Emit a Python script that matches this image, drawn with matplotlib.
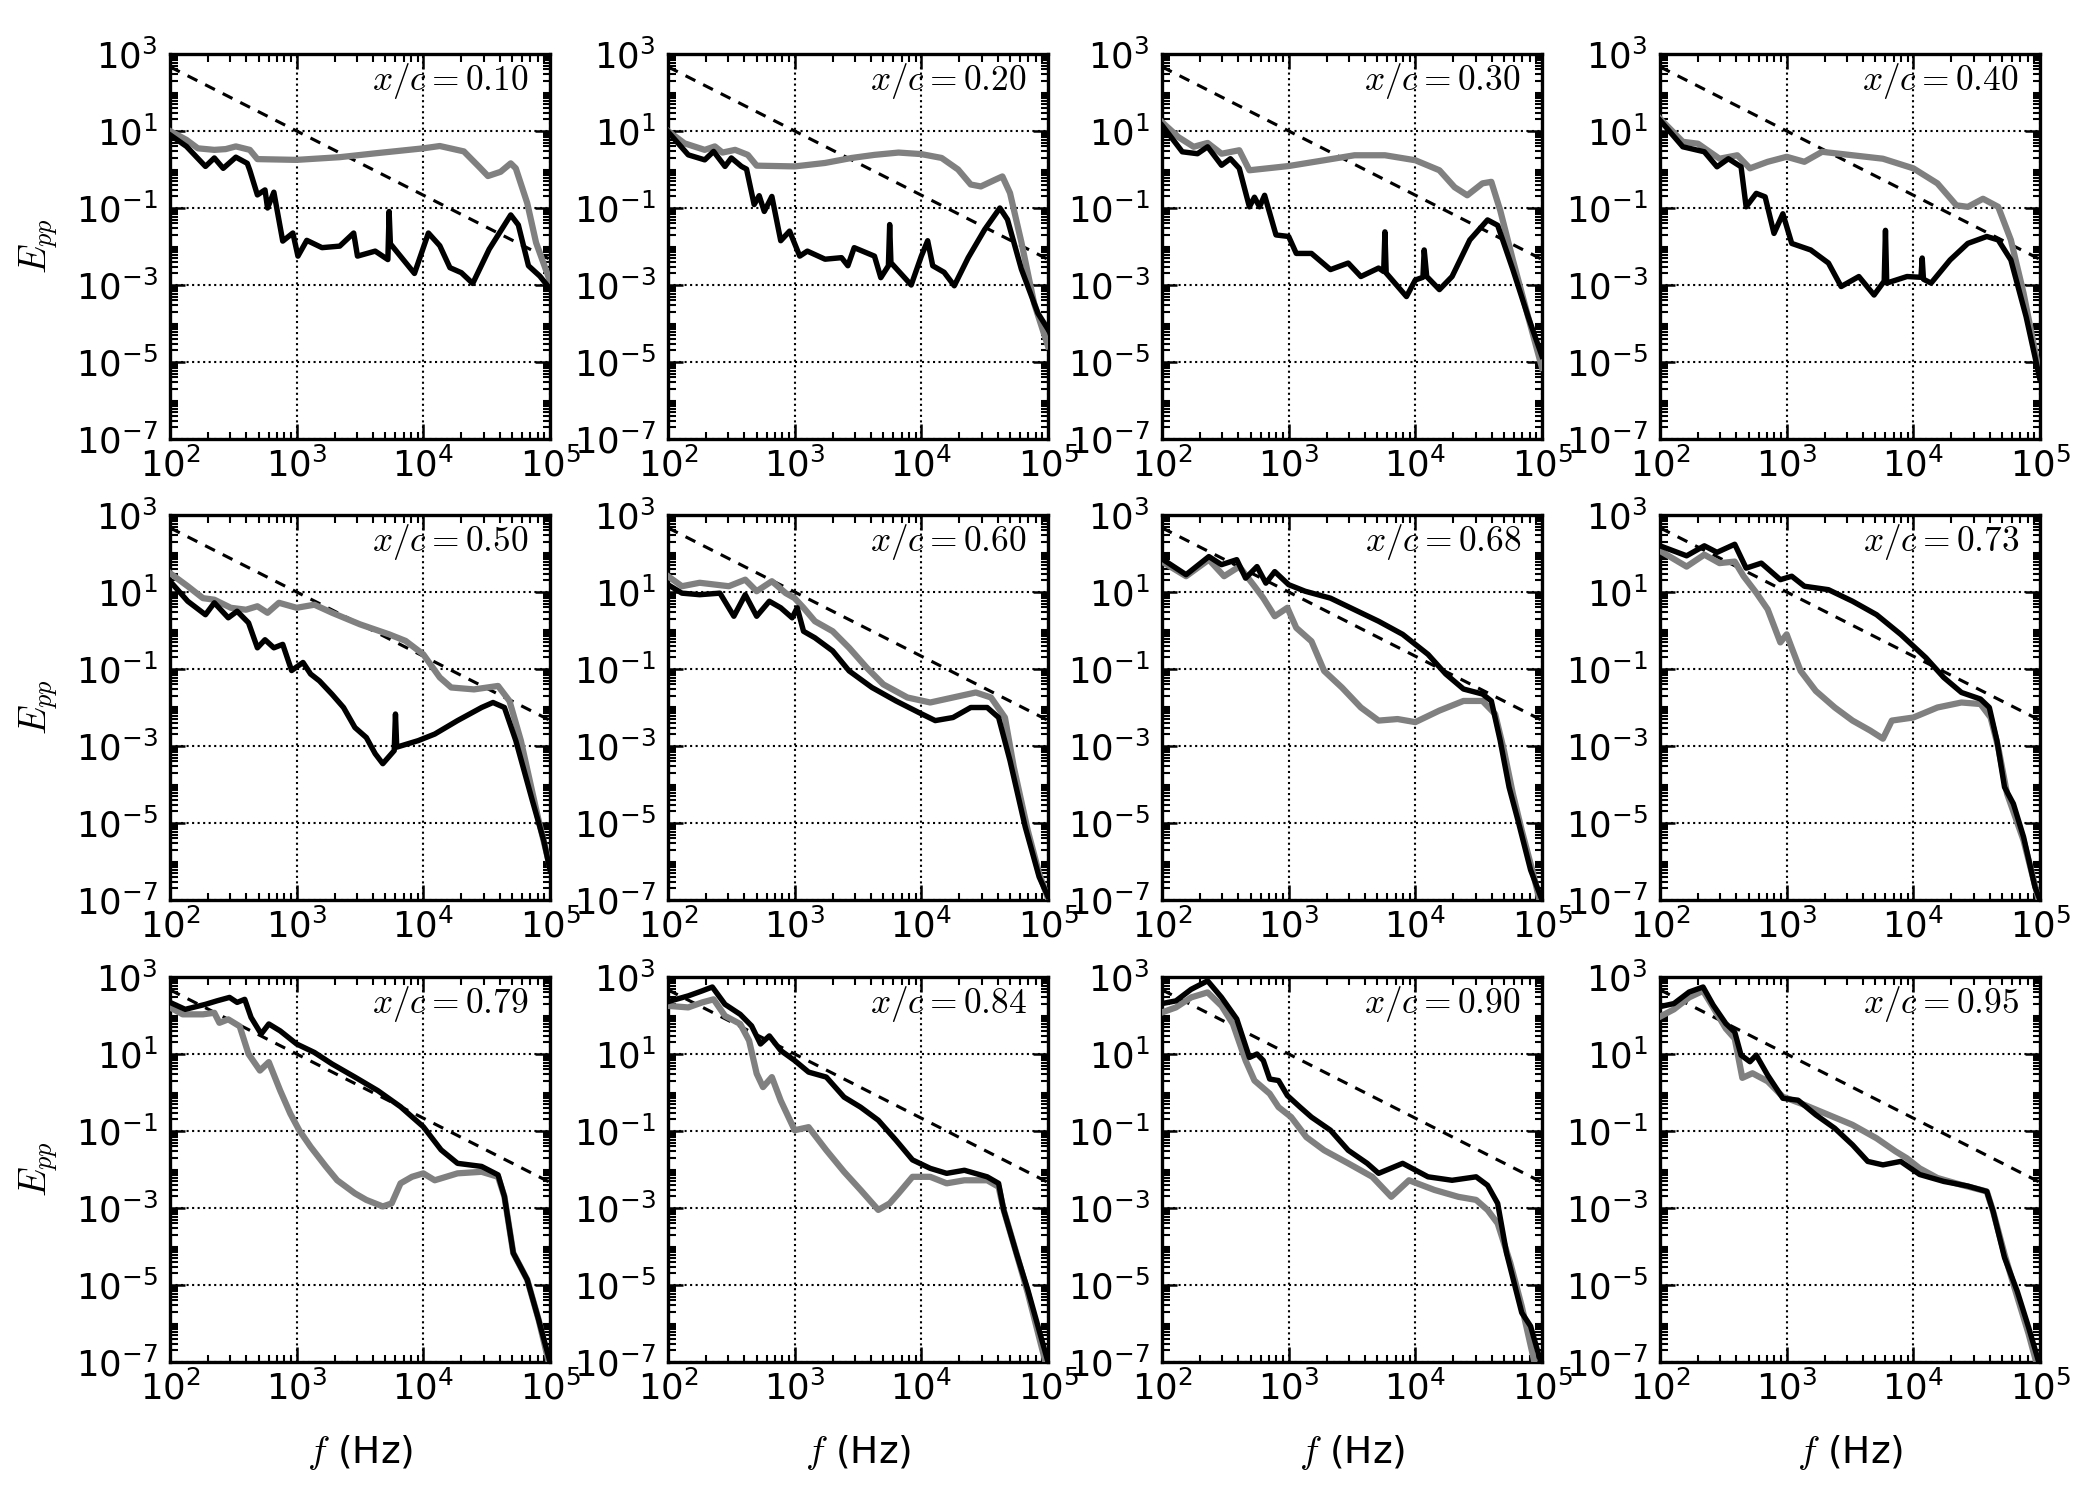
import numpy as np
import matplotlib
matplotlib.use("Agg")
import matplotlib.pyplot as plt
from matplotlib.ticker import LogLocator, NullFormatter, FuncFormatter

plt.rcParams['mathtext.fontset'] = 'cm'
plt.rcParams['axes.unicode_minus'] = False
plt.rcParams['font.family'] = ['DejaVu Sans']

# =========================
# Data (log10 f, log10 E_pp)
# k = black curve, g = gray curve
# =========================
labels = ["0.10", "0.20", "0.30", "0.40", "0.50", "0.60",
          "0.68", "0.73", "0.79", "0.84", "0.90", "0.95"]

# -5/3 reference line end points (f, E)
ref_f = [1e2, 1e5]
ref_E = [464.0, 0.00464]

lf_k_010 = [2.0, 2.13, 2.28, 2.35, 2.42, 2.52, 2.61, 2.63, 2.69, 2.75, 2.77, 2.82, 2.89, 2.97, 3.01, 3.08, 3.2, 3.34,
            3.45, 3.48, 3.62, 3.72, 3.73, 3.74, 3.93, 4.04, 4.13, 4.21, 4.3, 4.39, 4.52, 4.69, 4.75, 4.83, 4.92, 5.0]
le_k_010 = [0.9, 0.6, 0.08, 0.3, 0.03, 0.32, 0.16, -0.02, -0.66, -0.53, -1.0, -0.59, -1.86, -1.65, -2.25, -1.84,
            -2.03, -1.99, -1.65, -2.25, -2.12, -2.34, -1.09, -1.93, -2.7, -1.65, -1.98, -2.55, -2.68, -2.96, -2.07,
            -1.18, -1.44, -2.5, -2.77, -3.1]
lf_g_010 = [2.0, 2.13, 2.22, 2.35, 2.44, 2.52, 2.63, 2.69, 3.0, 3.34, 3.62, 4.0, 4.13, 4.32, 4.44, 4.51, 4.61, 4.69,
            4.73, 4.82, 4.89, 5.0]
le_g_010 = [1.0, 0.77, 0.55, 0.51, 0.53, 0.6, 0.51, 0.27, 0.25, 0.32, 0.42, 0.55, 0.61, 0.47, 0.07, -0.17, -0.06,
            0.16, 0.03, -0.87, -1.9, -2.9]

lf_k_020 = [2.0, 2.16, 2.29, 2.36, 2.45, 2.5, 2.58, 2.62, 2.68, 2.72, 2.76, 2.82, 2.89, 2.96, 3.04, 3.1, 3.24, 3.37,
            3.42, 3.47, 3.63, 3.68, 3.74, 3.75, 3.76, 3.92, 4.0, 4.05, 4.09, 4.18, 4.26, 4.37, 4.5, 4.62, 4.68, 4.79,
            4.92, 5.0]
le_k_020 = [0.98, 0.38, 0.25, 0.47, 0.08, 0.3, 0.08, 0.01, -0.91, -0.68, -1.09, -0.7, -1.85, -1.6, -2.25, -2.12,
            -2.33, -2.29, -2.5, -2.03, -2.25, -2.81, -2.5, -1.43, -2.42, -3.0, -2.25, -1.85, -2.5, -2.67, -3.02,
            -2.29, -1.56, -1.0, -1.3, -2.59, -3.73, -4.15]
lf_g_020 = [2.0, 2.13, 2.29, 2.37, 2.43, 2.53, 2.63, 2.7, 3.0, 3.24, 3.45, 3.63, 3.82, 4.0, 4.16, 4.29, 4.39, 4.47,
            4.58, 4.64, 4.7, 4.79, 4.89, 5.0]
le_g_020 = [1.0, 0.68, 0.51, 0.6, 0.44, 0.51, 0.38, 0.1, 0.08, 0.17, 0.3, 0.38, 0.44, 0.4, 0.3, 0.0, -0.39, -0.44,
            -0.27, -0.18, -0.61, -1.89, -3.47, -4.59]

lf_k_030 = [2.0, 2.16, 2.28, 2.36, 2.47, 2.54, 2.61, 2.69, 2.73, 2.77, 2.81, 2.9, 3.0, 3.06, 3.18, 3.33, 3.47, 3.57,
            3.71, 3.75, 3.76, 3.77, 3.93, 4.0, 4.06, 4.07, 4.09, 4.19, 4.29, 4.43, 4.57, 4.65, 4.77, 4.89, 5.0]
le_k_030 = [1.15, 0.46, 0.41, 0.59, 0.11, 0.28, 0.03, -0.97, -0.72, -0.97, -0.67, -1.7, -1.74, -2.18, -2.18, -2.6,
            -2.43, -2.78, -2.56, -2.65, -1.62, -2.69, -3.3, -2.87, -2.8, -2.09, -2.78, -3.12, -2.78, -1.83, -1.31,
            -1.45, -2.6, -3.82, -4.85]
lf_g_030 = [2.0, 2.13, 2.25, 2.36, 2.47, 2.61, 2.69, 3.0, 3.28, 3.52, 3.76, 4.0, 4.19, 4.31, 4.41, 4.53, 4.6, 4.67,
            4.77, 4.89, 5.0]
le_g_030 = [1.23, 0.84, 0.59, 0.69, 0.41, 0.5, -0.02, 0.09, 0.24, 0.37, 0.37, 0.24, -0.02, -0.46, -0.67, -0.36,
            -0.32, -1.06, -2.35, -3.82, -5.15]

lf_k_040 = [2.0, 2.18, 2.35, 2.45, 2.54, 2.64, 2.68, 2.76, 2.83, 2.9, 2.97, 3.04, 3.19, 3.33, 3.43, 3.57, 3.69, 3.77,
            3.78, 3.79, 3.95, 4.06, 4.07, 4.08, 4.14, 4.29, 4.43, 4.58, 4.67, 4.77, 4.89, 5.0]
le_k_040 = [1.28, 0.59, 0.46, 0.07, 0.28, 0.07, -0.97, -0.62, -0.71, -1.66, -1.15, -1.92, -2.09, -2.43, -3.04, -2.78,
            -3.26, -2.9, -1.58, -2.95, -2.78, -2.8, -2.3, -2.85, -2.95, -2.35, -1.92, -1.74, -1.83, -2.35, -3.82, -5.46]
lf_g_040 = [2.0, 2.18, 2.3, 2.47, 2.61, 2.71, 2.85, 3.0, 3.14, 3.28, 3.52, 3.76, 4.0, 4.19, 4.34, 4.43, 4.55, 4.67,
            4.77, 4.87, 5.0]
le_g_040 = [1.32, 0.72, 0.67, 0.28, 0.37, 0.03, 0.2, 0.33, 0.2, 0.46, 0.37, 0.28, 0.03, -0.36, -0.93, -0.97, -0.76,
            -0.97, -1.83, -3.21, -5.37]

lf_k_050 = [2.0, 2.14, 2.28, 2.35, 2.46, 2.53, 2.62, 2.69, 2.75, 2.82, 2.89, 2.96, 3.05, 3.11, 3.18, 3.28, 3.37, 3.46,
            3.55, 3.62, 3.68, 3.77, 3.78, 3.79, 3.96, 4.09, 4.27, 4.46, 4.55, 4.64, 4.73, 4.86, 4.95, 5.0]
le_k_050 = [1.28, 0.76, 0.41, 0.72, 0.33, 0.5, 0.2, -0.45, -0.24, -0.45, -0.36, -1.04, -0.83, -1.13, -1.31, -1.66,
            -2.0, -2.52, -2.78, -3.2, -3.46, -3.12, -2.17, -3.03, -2.86, -2.69, -2.34, -2.0, -1.87, -2.0, -2.86,
            -4.41, -5.45, -6.22]
lf_g_050 = [2.0, 2.14, 2.26, 2.35, 2.48, 2.6, 2.69, 2.77, 2.86, 3.0, 3.14, 3.28, 3.5, 3.73, 3.86, 4.0, 4.13, 4.22,
            4.4, 4.59, 4.68, 4.77, 4.91, 5.0]
le_g_050 = [1.49, 1.15, 0.84, 0.8, 0.59, 0.54, 0.63, 0.46, 0.72, 0.59, 0.67, 0.46, 0.16, -0.1, -0.27, -0.62, -1.22,
            -1.48, -1.53, -1.44, -1.83, -2.86, -4.93, -6.14]

lf_k_060 = [2.0, 2.11, 2.25, 2.41, 2.52, 2.61, 2.7, 2.8, 2.89, 2.98, 3.02, 3.07, 3.16, 3.3, 3.43, 3.61, 3.8, 3.98,
            4.11, 4.25, 4.39, 4.52, 4.61, 4.7, 4.82, 4.93, 5.0]
le_k_060 = [1.19, 0.97, 0.93, 0.97, 0.37, 0.93, 0.37, 0.76, 0.59, 0.33, 0.59, -0.02, -0.19, -0.53, -1.05, -1.48,
            -1.83, -2.13, -2.34, -2.26, -2.0, -2.0, -2.26, -3.38, -5.1, -6.4, -6.91]
lf_g_060 = [2.0, 2.11, 2.25, 2.48, 2.61, 2.7, 2.82, 2.93, 3.0, 3.07, 3.16, 3.3, 3.43, 3.57, 3.7, 3.89, 4.07, 4.25,
            4.43, 4.55, 4.66, 4.73, 4.84, 4.93, 5.0]
le_g_060 = [1.41, 1.15, 1.24, 1.15, 1.32, 1.02, 1.28, 0.97, 0.84, 0.59, 0.24, -0.02, -0.45, -0.97, -1.4, -1.74,
            -1.87, -1.74, -1.61, -1.74, -2.26, -3.55, -5.19, -6.31, -6.96]

lf_k_068 = [2.0, 2.19, 2.37, 2.47, 2.59, 2.66, 2.75, 2.82, 2.89, 3.0, 3.13, 3.33, 3.52, 3.71, 3.9, 4.1, 4.24, 4.38,
            4.53, 4.6, 4.67, 4.74, 4.81, 4.91, 5.0]
le_k_068 = [1.86, 1.45, 1.92, 1.71, 1.84, 1.36, 1.66, 1.23, 1.53, 1.19, 1.02, 0.84, 0.54, 0.24, -0.1, -0.62, -1.13,
            -1.52, -1.65, -1.83, -2.86, -4.07, -4.93, -6.22, -7.0]
lf_g_068 = [2.0, 2.19, 2.37, 2.49, 2.61, 2.73, 2.8, 2.89, 2.99, 3.06, 3.18, 3.28, 3.42, 3.57, 3.71, 3.86, 4.0, 4.19,
            4.38, 4.53, 4.63, 4.7, 4.77, 4.84, 4.93, 4.98]
le_g_068 = [1.79, 1.41, 1.84, 1.41, 1.66, 1.15, 0.84, 0.37, 0.59, 0.07, -0.28, -1.05, -1.48, -2.0, -2.34, -2.3,
            -2.38, -2.08, -1.83, -1.83, -2.17, -3.12, -4.24, -5.19, -6.31, -7.0]

lf_k_073 = [2.0, 2.21, 2.35, 2.45, 2.59, 2.68, 2.8, 2.95, 3.04, 3.14, 3.33, 3.52, 3.71, 3.9, 4.1, 4.24, 4.38, 4.53,
            4.6, 4.66, 4.72, 4.79, 4.87, 4.96, 5.0]
le_k_073 = [2.2, 1.94, 2.2, 2.03, 2.24, 1.62, 1.75, 1.32, 1.41, 1.15, 1.06, 0.76, 0.41, -0.1, -0.71, -1.22, -1.61,
            -1.78, -2.0, -2.86, -4.07, -4.5, -5.36, -6.66, -7.0]
lf_g_073 = [2.0, 2.21, 2.35, 2.47, 2.59, 2.66, 2.76, 2.85, 2.95, 3.0, 3.04, 3.11, 3.23, 3.38, 3.52, 3.66, 3.76, 3.83,
            4.0, 4.19, 4.38, 4.53, 4.61, 4.67, 4.74, 4.87, 4.99]
le_g_073 = [2.07, 1.66, 1.97, 1.75, 1.79, 1.41, 0.98, 0.55, -0.31, -0.1, -0.45, -1.05, -1.57, -2.0, -2.34, -2.6,
            -2.81, -2.34, -2.26, -2.0, -1.87, -1.91, -2.26, -3.03, -4.24, -5.45, -7.0]

lf_k_079 = [2.0, 2.12, 2.28, 2.37, 2.47, 2.53, 2.59, 2.64, 2.72, 2.78, 2.87, 3.0, 3.14, 3.28, 3.46, 3.64, 3.82, 4.0,
            4.14, 4.27, 4.46, 4.59, 4.64, 4.71, 4.82, 4.91, 5.0]
le_k_079 = [2.34, 2.16, 2.29, 2.38, 2.47, 2.34, 2.42, 1.95, 1.52, 1.78, 1.6, 1.26, 1.04, 0.74, 0.4, 0.05, -0.37,
            -0.89, -1.49, -1.84, -1.92, -2.14, -2.7, -4.17, -4.86, -5.9, -7.0]
lf_g_079 = [2.0, 2.1, 2.26, 2.35, 2.39, 2.46, 2.55, 2.62, 2.71, 2.78, 2.87, 2.95, 3.02, 3.11, 3.23, 3.32, 3.46, 3.55,
            3.68, 3.75, 3.82, 3.91, 4.0, 4.09, 4.27, 4.46, 4.59, 4.64, 4.71, 4.82, 4.91, 4.99]
le_g_079 = [2.21, 2.03, 2.03, 2.07, 1.81, 1.9, 1.72, 1.0, 0.57, 0.79, 0.05, -0.55, -0.98, -1.41, -1.92, -2.28, -2.62,
            -2.79, -2.96, -2.88, -2.36, -2.19, -2.1, -2.28, -2.1, -2.06, -2.19, -2.7, -4.17, -4.86, -5.9, -7.0]

lf_k_084 = [2.0, 2.16, 2.27, 2.35, 2.45, 2.57, 2.66, 2.73, 2.8, 2.89, 3.0, 3.11, 3.25, 3.39, 3.52, 3.66, 3.8, 3.93,
            4.07, 4.2, 4.34, 4.52, 4.61, 4.65, 4.75, 4.84, 5.0]
le_k_084 = [2.36, 2.51, 2.64, 2.74, 2.29, 2.03, 1.73, 1.26, 1.47, 1.09, 0.83, 0.53, 0.4, -0.12, -0.38, -0.72, -1.24,
            -1.75, -1.97, -2.1, -2.02, -2.19, -2.36, -3.05, -4.17, -5.12, -7.0]
lf_g_084 = [2.0, 2.16, 2.27, 2.36, 2.45, 2.57, 2.64, 2.7, 2.75, 2.82, 2.89, 3.0, 3.11, 3.25, 3.39, 3.52, 3.66, 3.75,
            3.82, 3.93, 4.07, 4.2, 4.34, 4.52, 4.61, 4.65, 4.75, 4.84, 4.98]
le_g_084 = [2.25, 2.21, 2.34, 2.42, 1.99, 1.78, 1.35, 0.49, 0.14, 0.4, -0.21, -0.98, -0.9, -1.5, -2.06, -2.53, -3.05,
            -2.88, -2.62, -2.19, -2.19, -2.36, -2.28, -2.28, -2.45, -3.05, -4.17, -5.2, -7.0]

lf_k_090 = [2.0, 2.11, 2.23, 2.36, 2.47, 2.59, 2.69, 2.75, 2.8, 2.85, 2.92, 2.99, 3.09, 3.18, 3.33, 3.47, 3.62, 3.71,
            3.9, 4.1, 4.29, 4.48, 4.57, 4.65, 4.72, 4.84, 4.91, 4.99]
le_k_090 = [2.31, 2.38, 2.68, 2.9, 2.47, 1.91, 0.91, 1.0, 0.83, 0.35, 0.31, -0.08, -0.38, -0.64, -0.98, -1.5, -1.84,
            -2.1, -1.84, -2.19, -2.28, -2.19, -2.41, -2.88, -4.17, -5.72, -6.07, -7.0]
lf_g_090 = [2.0, 2.11, 2.23, 2.36, 2.47, 2.56, 2.66, 2.73, 2.85, 2.92, 3.02, 3.14, 3.28, 3.47, 3.66, 3.81, 3.95, 4.15,
            4.34, 4.48, 4.57, 4.65, 4.75, 4.84, 4.94]
le_g_090 = [2.08, 2.21, 2.47, 2.6, 2.25, 1.78, 0.83, 0.31, -0.03, -0.38, -0.64, -1.16, -1.5, -1.84, -2.19, -2.71,
            -2.28, -2.53, -2.71, -2.79, -3.05, -3.4, -4.43, -5.55, -7.0]

lf_k_095 = [2.0, 2.11, 2.23, 2.34, 2.42, 2.52, 2.59, 2.64, 2.71, 2.76, 2.85, 2.97, 3.09, 3.23, 3.38, 3.52, 3.64, 3.76,
            3.9, 4.05, 4.24, 4.43, 4.58, 4.63, 4.72, 4.82, 4.91, 4.99]
le_k_095 = [2.23, 2.31, 2.61, 2.74, 2.27, 1.79, 1.57, 0.97, 0.8, 0.97, 0.45, -0.15, -0.2, -0.58, -0.93, -1.36, -1.79,
            -1.88, -1.79, -2.13, -2.31, -2.43, -2.57, -3.09, -4.29, -5.16, -6.1, -7.0]
lf_g_095 = [2.0, 2.11, 2.23, 2.34, 2.42, 2.52, 2.59, 2.65, 2.73, 2.85, 2.97, 3.14, 3.33, 3.52, 3.71, 3.86, 3.95, 4.05,
            4.19, 4.38, 4.58, 4.63, 4.72, 4.79, 4.91, 4.97]
le_g_095 = [1.97, 2.16, 2.47, 2.64, 2.21, 1.66, 1.4, 0.38, 0.5, 0.29, -0.11, -0.32, -0.58, -0.84, -1.19, -1.53, -1.71,
            -1.97, -2.22, -2.4, -2.57, -3.09, -4.2, -4.98, -6.27, -7.0]

black = [(lf_k_010, le_k_010), (lf_k_020, le_k_020), (lf_k_030, le_k_030), (lf_k_040, le_k_040),
         (lf_k_050, le_k_050), (lf_k_060, le_k_060), (lf_k_068, le_k_068), (lf_k_073, le_k_073),
         (lf_k_079, le_k_079), (lf_k_084, le_k_084), (lf_k_090, le_k_090), (lf_k_095, le_k_095)]
gray = [(lf_g_010, le_g_010), (lf_g_020, le_g_020), (lf_g_030, le_g_030), (lf_g_040, le_g_040),
        (lf_g_050, le_g_050), (lf_g_060, le_g_060), (lf_g_068, le_g_068), (lf_g_073, le_g_073),
        (lf_g_079, le_g_079), (lf_g_084, le_g_084), (lf_g_090, le_g_090), (lf_g_095, le_g_095)]

# =========================
# Figure
# =========================
fig = plt.figure(figsize=(7, 5), dpi=300)

lefts = [170, 668, 1162, 1660]
tops = [54, 515, 977]
w_px, h_px = 380, 385

dec_fmt = FuncFormatter(lambda v, p: r'$\mathdefault{10^{%d}}$' % int(round(np.log10(v))))

for i in range(12):
    r, c = divmod(i, 4)
    ax = fig.add_axes([lefts[c] / 2100, 1 - (tops[r] + h_px) / 1500, w_px / 2100, h_px / 1500])

    ax.plot(ref_f, ref_E, color='k', lw=0.75, ls=(0, (3.5, 2.8)), zorder=2)
    gf, ge = gray[i]
    ax.plot(10 ** np.array(gf), 10 ** np.array(ge), color='0.5', lw=1.5, zorder=3)
    kf, ke = black[i]
    ax.plot(10 ** np.array(kf), 10 ** np.array(ke), color='k', lw=1.3, zorder=4)

    ax.set_xscale('log')
    ax.set_yscale('log')
    ax.set_xlim(1e2, 1e5)
    ax.set_ylim(1e-7, 1e3)
    ax.set_xticks([1e2, 1e3, 1e4, 1e5])
    ax.set_yticks([1e-7, 1e-5, 1e-3, 1e-1, 1e1, 1e3])
    ax.xaxis.set_major_formatter(dec_fmt)
    ax.yaxis.set_major_formatter(dec_fmt)
    ax.xaxis.set_minor_locator(LogLocator(base=10, subs=np.arange(2, 10), numticks=20))
    ax.yaxis.set_minor_locator(LogLocator(base=10, subs=np.arange(1, 10), numticks=30))
    ax.xaxis.set_minor_formatter(NullFormatter())
    ax.yaxis.set_minor_formatter(NullFormatter())

    ax.tick_params(which='both', direction='in', top=True, right=True, labelsize=8.5)
    ax.tick_params(which='major', length=3.5, width=0.6)
    ax.tick_params(which='minor', length=1.8, width=0.5)
    ax.tick_params(axis='x', pad=2)
    ax.tick_params(axis='y', pad=3)
    for s in ax.spines.values():
        s.set_linewidth(0.8)
    ax.grid(True, which='major', ls=':', color='k', lw=0.5)

    ax.text(0.945, 0.93, r'$x/c=%s$' % labels[i], transform=ax.transAxes,
            ha='right', va='center', fontsize=8.5)

    if c == 0:
        ax.set_ylabel(r'$E_{pp}$', fontsize=9)
        ax.yaxis.set_label_coords(-0.29, 0.5)
    if r == 2:
        ax.set_xlabel(r'$f$ (Hz)', fontsize=9)
        ax.xaxis.set_label_coords(0.5, -0.185)

fig.savefig('out.png', dpi=300, facecolor='white')
